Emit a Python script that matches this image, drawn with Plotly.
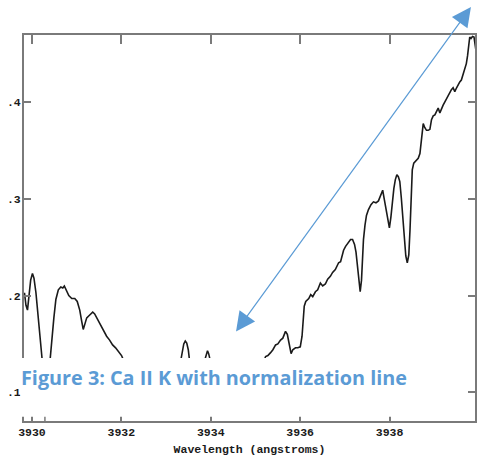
import plotly.graph_objects as go

# Spectrum data (wavelength in angstroms, relative flux)
wavelength = [
    3929.833, 3929.866, 3929.900, 3929.927, 3929.971, 3930.011, 3930.045, 3930.089, 3930.134, 3930.178,
    3930.212, 3930.256, 3930.312, 3930.356, 3930.401, 3930.445, 3930.490, 3930.535, 3930.590, 3930.646,
    3930.690, 3930.724, 3930.768, 3930.824, 3930.891, 3930.958, 3931.013, 3931.069, 3931.114, 3931.147,
    3931.180, 3931.225, 3931.292, 3931.359, 3931.403, 3931.470, 3931.537, 3931.604, 3931.670, 3931.737,
    3931.804, 3931.871, 3931.938, 3932.004, 3932.049, 3932.200, 3932.400, 3932.600, 3932.800, 3933.000,
    3933.200, 3933.330, 3933.363, 3933.396, 3933.430, 3933.463, 3933.497, 3933.530, 3933.600, 3933.660,
    3933.750, 3933.830, 3933.864, 3933.898, 3933.927, 3933.953, 3933.998, 3934.200, 3934.500, 3934.800,
    3935.000, 3935.120, 3935.227, 3935.278, 3935.338, 3935.390, 3935.450, 3935.501, 3935.561, 3935.612,
    3935.672, 3935.713, 3935.746, 3935.797, 3935.835, 3935.895, 3935.947, 3936.002, 3936.042, 3936.065,
    3936.091, 3936.125, 3936.192, 3936.236, 3936.281, 3936.341, 3936.392, 3936.452, 3936.504, 3936.563,
    3936.615, 3936.675, 3936.726, 3936.786, 3936.826, 3936.860, 3936.904, 3936.971, 3937.016, 3937.082,
    3937.127, 3937.172, 3937.216, 3937.249, 3937.283, 3937.316, 3937.343, 3937.372, 3937.394, 3937.416,
    3937.450, 3937.483, 3937.528, 3937.584, 3937.639, 3937.695, 3937.751, 3937.806, 3937.846, 3937.884,
    3937.929, 3937.962, 3937.996, 3938.029, 3938.062, 3938.096, 3938.129, 3938.163, 3938.196, 3938.229,
    3938.263, 3938.296, 3938.330, 3938.363, 3938.396, 3938.430, 3938.457, 3938.486, 3938.508, 3938.541,
    3938.597, 3938.641, 3938.679, 3938.719, 3938.753, 3938.786, 3938.826, 3938.864, 3938.902, 3938.938,
    3938.976, 3939.013, 3939.053, 3939.087, 3939.125, 3939.165, 3939.198, 3939.243, 3939.276, 3939.310,
    3939.343, 3939.383, 3939.421, 3939.459, 3939.499, 3939.532, 3939.570, 3939.606, 3939.644, 3939.682,
    3939.717, 3939.744, 3939.766, 3939.793, 3939.822, 3939.855, 3939.889, 3939.922, 3939.955,
]
flux = [
    0.203, 0.190, 0.185, 0.196, 0.216, 0.223, 0.218, 0.203, 0.180, 0.154,
    0.137, 0.113, 0.092, 0.108, 0.133, 0.154, 0.177, 0.196, 0.206, 0.209,
    0.208, 0.210, 0.206, 0.200, 0.197, 0.197, 0.194, 0.185, 0.173, 0.165,
    0.170, 0.177, 0.180, 0.183, 0.181, 0.175, 0.170, 0.164, 0.158, 0.154,
    0.149, 0.146, 0.142, 0.138, 0.133, 0.125, 0.118, 0.110, 0.102, 0.095,
    0.100, 0.131, 0.142, 0.150, 0.153, 0.151, 0.144, 0.131, 0.090, 0.080,
    0.090, 0.110, 0.133, 0.140, 0.143, 0.140, 0.131, 0.115, 0.110, 0.118,
    0.122, 0.125, 0.137, 0.138, 0.141, 0.144, 0.149, 0.150, 0.154, 0.156,
    0.163, 0.160, 0.152, 0.140, 0.144, 0.146, 0.146, 0.147, 0.158, 0.178,
    0.189, 0.194, 0.197, 0.201, 0.199, 0.204, 0.206, 0.213, 0.210, 0.212,
    0.217, 0.220, 0.224, 0.227, 0.231, 0.234, 0.235, 0.247, 0.251, 0.256,
    0.258, 0.258, 0.253, 0.245, 0.229, 0.213, 0.204, 0.216, 0.237, 0.258,
    0.273, 0.283, 0.289, 0.294, 0.297, 0.296, 0.298, 0.304, 0.309, 0.299,
    0.286, 0.276, 0.270, 0.281, 0.299, 0.311, 0.320, 0.325, 0.323, 0.318,
    0.301, 0.278, 0.258, 0.241, 0.234, 0.242, 0.268, 0.304, 0.330, 0.337,
    0.340, 0.342, 0.347, 0.361, 0.378, 0.374, 0.371, 0.371, 0.372, 0.382,
    0.386, 0.387, 0.391, 0.394, 0.389, 0.394, 0.397, 0.401, 0.404, 0.406,
    0.410, 0.413, 0.415, 0.411, 0.415, 0.418, 0.421, 0.423, 0.429, 0.437,
    0.440, 0.448, 0.458, 0.4675, 0.466, 0.468, 0.4675, 0.456, 0.446,
]

x_tickvals = [3930, 3932, 3934, 3936, 3938]
x_ticktext = ["3930", "3932", "3934", "3936", "3938"]
y_tickvals = [0.1, 0.2, 0.3, 0.4]
y_ticktext = [".1", ".2", ".3", ".4"]
x_range = [3929.822, 3939.911]
y_range = [0.0703, 0.4696]
extra_tick = 3930.29

caption = "Figure 3: Ca II K with normalization line"
x_title = "Wavelength (angstroms)"

axis_color = "#7a7a7a"
tick_font = dict(family="Liberation Mono", size=11.5, color="#1a1a1a", weight="bold")

fig = go.Figure()
fig.add_trace(go.Scatter(
    x=wavelength, y=flux, mode="lines",
    line=dict(color="#1a1a1a", width=1.6),
    showlegend=False, hoverinfo="skip",
))

fig.update_layout(
    width=479, height=457,
    margin=dict(l=24, r=2, t=35, b=36),
    paper_bgcolor="white", plot_bgcolor="white",
    xaxis=dict(
        range=x_range, tickvals=x_tickvals, ticktext=x_ticktext,
        ticks="inside", ticklen=9, tickwidth=1.5, tickcolor=axis_color,
        showline=True, linecolor=axis_color, linewidth=2, mirror="ticks",
        showgrid=False, zeroline=False, tickfont=tick_font,
        ticklabelstandoff=-1,
        title=dict(text=x_title, font=tick_font, standoff=7),
    ),
    yaxis=dict(
        range=y_range, tickvals=y_tickvals, ticktext=y_ticktext,
        ticks="inside", ticklen=7, tickwidth=1.5, tickcolor=axis_color,
        showline=True, linecolor=axis_color, linewidth=2, mirror="ticks",
        showgrid=False, zeroline=False, tickfont=tick_font,
        ticklabelstandoff=-1,
    ),
)

# extra bottom tick mark
fig.add_shape(type="line", xref="x", yref="paper", x0=extra_tick, x1=extra_tick,
              y0=0, y1=0.025, line=dict(color=axis_color, width=1.5))

# white caption box covering the lower part of the plot
fig.add_shape(type="rect", xref="paper", yref="paper", layer="above",
              x0=-0.008, x1=0.896, y0=0.011, y1=0.163,
              fillcolor="white", line=dict(width=0))

fig.add_annotation(
    xref="paper", yref="paper", x=-0.011, y=0.112, xanchor="left", yanchor="middle",
    text=caption, showarrow=False,
    font=dict(family="Open Sans", size=19.8, color="#5b9bd5", weight="bold"),
)

# double-headed normalization arrow
fig.add_annotation(
    xref="paper", yref="paper", x=0.991, y=1.0725, ax=-236, ay=326,
    axref="pixel", ayref="pixel", text="", showarrow=True,
    arrowside="end+start", arrowhead=2, startarrowhead=2,
    arrowsize=3.2, startarrowsize=3.2, arrowwidth=1.2, arrowcolor="#5b9bd5",
    standoff=0, startstandoff=0,
)

fig.write_html("out.html")
